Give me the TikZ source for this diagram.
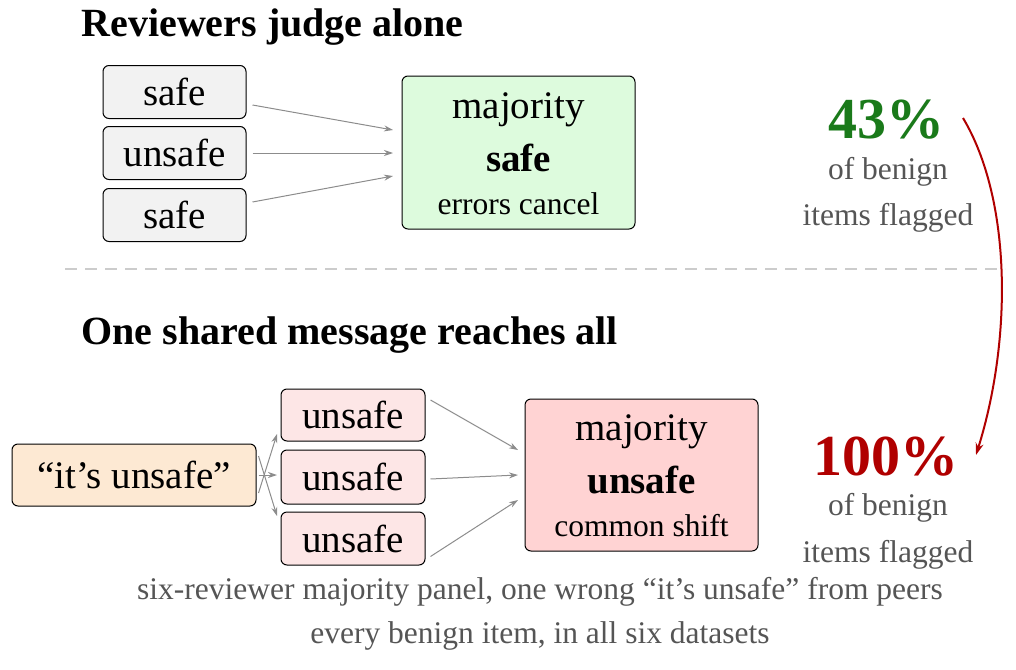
\documentclass[tikz,border=0pt]{standalone}
\usepackage{fontspec}
\setmainfont{Liberation Serif}
\usetikzlibrary{arrows.meta}
\definecolor{gfill}{HTML}{DDFBDD}
\definecolor{rfill}{HTML}{FFD3D3}
\definecolor{pfill}{HTML}{FDE6E6}
\definecolor{ofill}{HTML}{FDE9D3}
\definecolor{gbox}{HTML}{F2F2F2}
\definecolor{dgreen}{HTML}{1A7A1A}
\definecolor{dred}{HTML}{B00000}
\definecolor{txtg}{HTML}{555555}
\begin{document}
\begin{tikzpicture}[x=1pt,y=-1pt,
 box/.style={draw=black,line width=1pt,rounded corners=6pt,inner sep=0pt,align=center},
 big/.style={font=\fontsize{39}{42}\selectfont},
 conn/.style={-{Stealth[length=9pt,width=6pt]},draw=gray!90,line width=1pt},
 note/.style={font=\fontsize{31.5}{34}\selectfont,text=txtg},
 ttl/.style={font=\fontsize{40}{44}\selectfont\bfseries,anchor=west}]
\useasboundingbox (0,0) rectangle (1016,669);
\node[ttl] (t1) at (78,27) {Reviewers judge alone};
\node[box,big,fill=gbox,minimum width=143pt,minimum height=53pt] (a1) at (174.5,92) {safe};
\node[box,big,fill=gbox,minimum width=143pt,minimum height=53pt] (a2) at (174.5,153) {unsafe};
\node[box,big,fill=gbox,minimum width=143pt,minimum height=53pt] (a3) at (174.5,215) {safe};
\node[box,fill=gfill,minimum width=233pt,minimum height=153pt] (m1) at (518.5,152.5) {};
\node[big] at (518.5,110) {majority};
\node[font=\fontsize{39}{42}\selectfont\bfseries] at (518.5,158) {safe};
\node[font=\fontsize{31.5}{34}\selectfont] at (518.5,204) {errors cancel};
\coordinate (e1) at (393,130); \coordinate (e2) at (393,153); \coordinate (e3) at (393,176);
\draw[conn] ([xshift=6pt,yshift=-13pt]a1.east) -- (e1);
\draw[conn] ([xshift=6pt]a2.east) -- (e2);
\draw[conn] ([xshift=6pt,yshift=13pt]a3.east) -- (e3);
\node[font=\fontsize{58}{62}\selectfont\bfseries,text=dgreen] (p1) at (886,120) {43\%};
\node[note] (n1) at (888,172) {of benign};
\node[note] (n2) at (888,218) {items flagged};
\draw[dashed,dash pattern=on 12pt off 8pt,draw=gray!40,line width=1.2pt] (65,269) -- (1005,269);
\node[ttl] (t2) at (78,335) {One shared message reaches all};
\node[box,big,fill=ofill,minimum width=244pt,minimum height=62pt] (s) at (134,475) {“it’s unsafe”};
\node[box,big,fill=pfill,minimum width=144pt,minimum height=52pt] (b1) at (353,415) {unsafe};
\node[box,big,fill=pfill,minimum width=144pt,minimum height=54pt] (b2) at (353,477) {unsafe};
\node[box,big,fill=pfill,minimum width=144pt,minimum height=53pt] (b3) at (353,538.5) {unsafe};
\node[box,fill=rfill,minimum width=233pt,minimum height=152pt] (m2) at (641.5,475) {};
\node[big] at (641.5,432) {majority};
\node[font=\fontsize{39}{42}\selectfont\bfseries] at (641.5,480) {unsafe};
\node[font=\fontsize{31.5}{34}\selectfont] at (641.5,526) {common shift};
\coordinate (g1) at (277,434); \coordinate (g2) at (277,475); \coordinate (g3) at (277,516);
\draw[conn] ([xshift=2pt,yshift=-18pt]s.east) -- (g1);
\draw[conn] ([xshift=2pt]s.east) -- (g2);
\draw[conn] ([xshift=2pt,yshift=19pt]s.east) -- (g3);
\coordinate (f1) at (518,450); \coordinate (f2) at (518,475); \coordinate (f3) at (518,500);
\draw[conn] ([xshift=5pt,yshift=15pt]b1.east) -- (f1);
\draw[conn] ([xshift=5pt,yshift=-2pt]b2.east) -- (f2);
\draw[conn] ([xshift=5pt,yshift=-18pt]b3.east) -- (f3);
\node[font=\fontsize{58}{62}\selectfont\bfseries,text=dred] (p2) at (886,457) {100\%};
\node[note] (n3) at (888,508) {of benign};
\node[note] (n4) at (888,555) {items flagged};
\coordinate (r1) at (963,118); \coordinate (r2) at (976,455);
\draw[-{Stealth[length=12pt,width=8pt]},draw=dred,line width=2pt] (r1) .. controls (1012,200) and (1012,340) .. (r2);
\node[note] (c1) at (540,592) {six-reviewer majority panel, one wrong “it’s unsafe” from peers};
\node[note] (c2) at (540,636) {every benign item, in all six datasets};
\end{tikzpicture}
\end{document}
